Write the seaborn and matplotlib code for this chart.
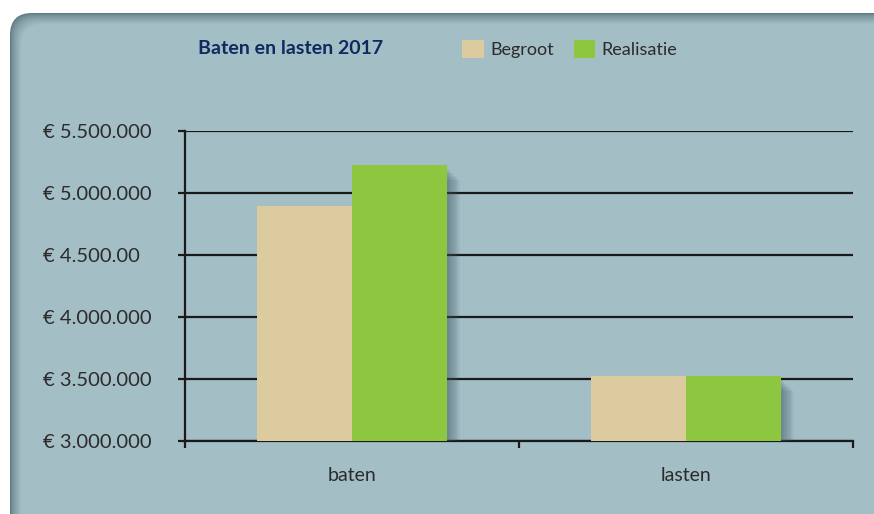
import numpy as np
import pandas as pd
import matplotlib
matplotlib.use("Agg")
import matplotlib.pyplot as plt
import matplotlib.patheffects as pe
from matplotlib.patches import FancyBboxPatch, Patch
from matplotlib.transforms import IdentityTransform
import seaborn as sns

# --- data ---
categories = ["baten", "lasten"]
begroot = [4890000, 3525000]
realisatie = [5225000, 3525000]
series = ["Begroot", "Realisatie"]
ytick_values = [3000000, 3500000, 4000000, 4500000, 5000000, 5500000]
ytick_labels = ["€ 3.000.000", "€ 3.500.000", "€ 4.000.000",
                "€ 4.500.00", "€ 5.000.000", "€ 5.500.000"]

df = pd.DataFrame({
    "categorie": categories * 2,
    "serie": [series[0]] * 2 + [series[1]] * 2,
    "waarde": begroot + realisatie,
})

panel_col = "#a4bec5"
colors = {"Begroot": "#dccb9e", "Realisatie": "#8dc63f"}

sns.set_theme(style="white")
plt.rcParams["font.family"] = ["Lato", "DejaVu Sans"]

fig = plt.figure(figsize=(8.74, 5.14), dpi=100)
fig.patch.set_facecolor("white")

# panel met zachte schaduw aan boven- en linkerkant
W, H = 874, 514
x0, ytop = 10, 501
dark = np.array(matplotlib.colors.to_rgb("#637c84"))
light = np.array(matplotlib.colors.to_rgb(panel_col))
steps = 12
for i in range(steps):
    t = (i / (steps - 1)) ** 0.7
    c = dark * (1 - t) + light * t
    p = FancyBboxPatch((x0 + i, -40), W + 40, ytop - i + 40,
                       boxstyle="round,pad=0,rounding_size=22",
                       transform=IdentityTransform(), facecolor=c,
                       edgecolor="none", zorder=-10)
    fig.patches.append(p)

ax = fig.add_axes([185 / W, 1 - 441 / H, (853 - 185) / W, (441 - 130.5) / H])
ax.set_facecolor("none")

sns.barplot(data=df, x="categorie", y="waarde", hue="serie",
            palette=colors, width=0.57, saturation=1, ax=ax,
            legend=False, zorder=3)

# zachte slagschaduw: meerdere lichte lagen
shadow = [pe.SimplePatchShadow(offset=(d, -d - 2), shadow_rgbFace="#3e5862", alpha=0.07)
          for d in range(1, 10)]
for bar in ax.patches:
    bar.set_edgecolor("none")
    bar.set_path_effects(shadow + [pe.Normal()])

ax.set_ylim(3000000, 5500000)
ax.set_xlim(-0.5, 1.5)
ax.set_yticks(ytick_values)
ax.set_yticklabels(ytick_labels, fontsize=14.5, color="#2b2b2b")
for lab in ax.get_yticklabels():
    lab.set_horizontalalignment("left")
ax.tick_params(axis="y", direction="out", length=5, width=1.6,
               color="#1a1a1a", pad=97, left=True)

ax.set_xticks([0, 1])
ax.set_xticklabels(categories, fontsize=14, color="#2b2b2b")
ax.tick_params(axis="x", length=0, pad=19)
ax.set_xticks([-0.5, 0.5, 1.5], minor=True)
ax.tick_params(axis="x", which="minor", direction="out", length=5,
               width=1.6, color="#1a1a1a", bottom=True)

ax.yaxis.grid(True, color="#1a1a1a", linewidth=1.6, zorder=1)
ax.set_axisbelow(True)
for s in ["top", "right"]:
    ax.spines[s].set_visible(False)
for s in ["left", "bottom"]:
    ax.spines[s].set_color("#1a1a1a")
    ax.spines[s].set_linewidth(1.6)
ax.set_xlabel("")
ax.set_ylabel("")

fig.text(291 / W, 1 - 49 / H, "Baten en lasten 2017", ha="center", va="center",
         fontsize=14, fontweight="bold", color="#0e2a5e")

handles = [Patch(facecolor=colors[s], edgecolor="none", label=s) for s in series]
fig.legend(handles=handles, loc="center left", bbox_to_anchor=(446 / W, 1 - 49 / H),
           ncol=2, frameon=False, fontsize=13, handlelength=1.2, handleheight=1.2,
           handletextpad=0.35, columnspacing=1.1, labelcolor="#2b2b2b")

fig.savefig("out.png", dpi=100)
